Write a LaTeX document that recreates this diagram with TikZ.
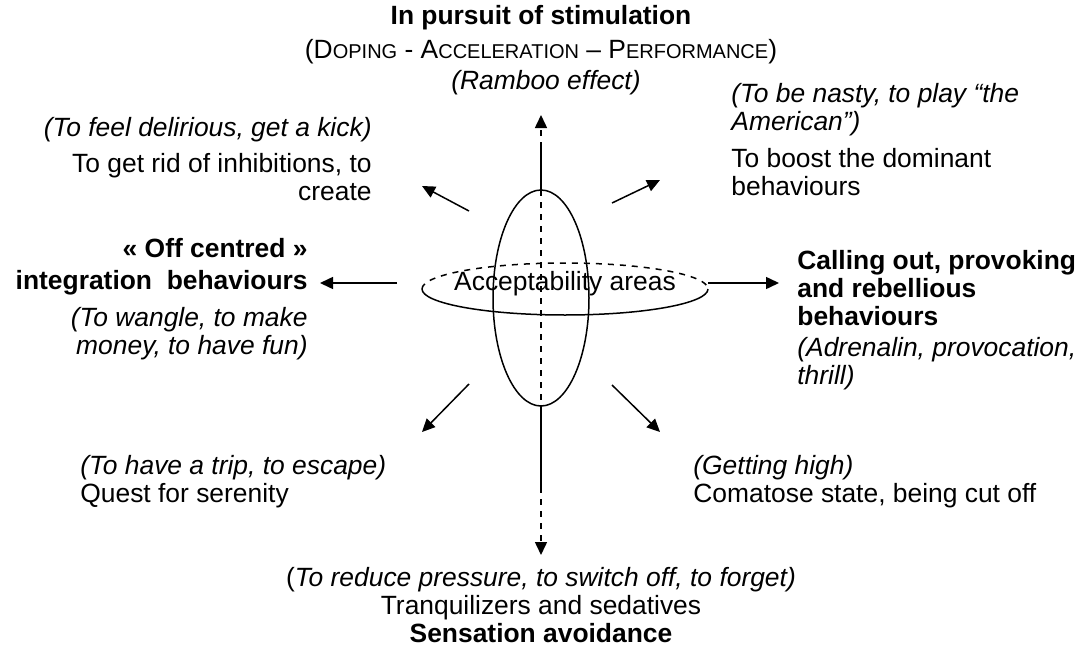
\documentclass[tikz,border=0pt]{standalone}
\usepackage{fontspec}
\setmainfont{Liberation Sans}
\usetikzlibrary{arrows.meta}

% fake small capitals of the heading
\newcommand{\fsc}[2]{#1{\fontsize{10}{12}\selectfont #2}}

\tikzset{
  lbl/.style={inner sep=0pt,font=\fontsize{13.2}{14}\selectfont},
  lblit/.style={lbl,font=\fontsize{13.2}{14}\selectfont\itshape},
  lblbf/.style={lbl,font=\fontsize{13.2}{14}\selectfont\bfseries},
  axis/.style={line width=0.75pt},
}

\begin{document}
\begin{tikzpicture}[x=0.5pt,y=-0.5pt,>={Triangle[length=6.5pt,width=6pt]}]
  \useasboundingbox (0,0) rectangle (1088,648);

  % the two areas
  \draw[axis] (541,298) ellipse [x radius=48, y radius=108];
  \draw[axis,dashed] (422,289) arc[start angle=180,end angle=360,x radius=143,y radius=26];
  \draw[axis] (422,289) arc[start angle=180,end angle=0,x radius=143,y radius=26];
  \node[lbl] (areas) at (565,284) {Acceptability areas};

  % vertical axis
  \coordinate (up) at (541,115);
  \coordinate (upA) at (541,148);
  \coordinate (upB) at (541,190);
  \coordinate (dnB) at (541,406);
  \coordinate (dnA) at (541,487);
  \coordinate (dn) at (541,555);
  \draw[axis,dashed,->] (upA) -- (up);
  \draw[axis] (upA) -- (upB);
  \draw[axis,dashed] (upB) -- (dnB);
  \draw[axis] (dnB) -- (dnA);
  \draw[axis,dashed,->] (dnA) -- (dn);

  % side arrows
  \coordinate (lA) at (397,283);
  \coordinate (lB) at (320,283);
  \coordinate (rA) at (708,283);
  \coordinate (rB) at (779,283);
  \draw[axis,->] (lA) -- (lB);
  \draw[axis,->] (rA) -- (rB);

  % diagonal arrows
  \coordinate (ulA) at (469,211);
  \coordinate (ulB) at (422,186);
  \coordinate (urA) at (612,203);
  \coordinate (urB) at (660,180);
  \coordinate (llA) at (469,384);
  \coordinate (llB) at (422,432);
  \coordinate (lrA) at (612,385);
  \coordinate (lrB) at (660,432);
  \draw[axis,->] (ulA) -- (ulB);
  \draw[axis,->] (urA) -- (urB);
  \draw[axis,->] (llA) -- (llB);
  \draw[axis,->] (lrA) -- (lrB);

  % top
  \node[lblbf] (stim) at (541,18) {In pursuit of stimulation};
  \node[lbl] (doping) at (541,52) {(\fsc{D}{OPING} - \fsc{A}{CCELERATION} -- \fsc{P}{ERFORMANCE})};
  \node[lblit] (rambo) at (546,83) {(Ramboo effect)};

  % upper left
  \node[lblit,anchor=east] (kick) at (372,130) {(To feel delirious, get a kick)};
  \node[lbl,anchor=east,align=right] (inhib) at (372,177) {To get rid of inhibitions, to\\create};

  % left
  \node[lblbf,anchor=east,align=right] (offc) at (308,267) {« Off centred »\\[2pt]integration\ \ behaviours};
  \node[lblit,anchor=east,align=right] (wangle) at (308,334) {(To wangle, to make\\money, to have fun)};

  % lower left
  \node[lbl,anchor=west,align=left] (seren) at (80,482) {\textit{(To have a trip, to escape)}\\Quest for serenity};

  % bottom
  \node[lbl,align=center] (avoid) at (541,605) {(\textit{To reduce pressure, to switch off, to forget)}\\Tranquilizers and sedatives\\\textbf{Sensation avoidance}};

  % upper right
  \node[lblit,anchor=west,align=left] (nasty) at (731,110) {(To be nasty, to play “the\\American”)};
  \node[lbl,anchor=west,align=left] (boost) at (731,172) {To boost the dominant\\behaviours};

  % right
  \node[lblbf,anchor=west,align=left] (rebel) at (797,288) {Calling out, provoking\\and rebellious\\behaviours};
  \node[lblit,anchor=west,align=left] (thrill) at (797,364) {(Adrenalin, provocation,\\thrill)};

  % lower right
  \node[lbl,anchor=west,align=left] (high) at (693,482) {\textit{(Getting high)}\\Comatose state, being cut off};
\end{tikzpicture}
\end{document}
